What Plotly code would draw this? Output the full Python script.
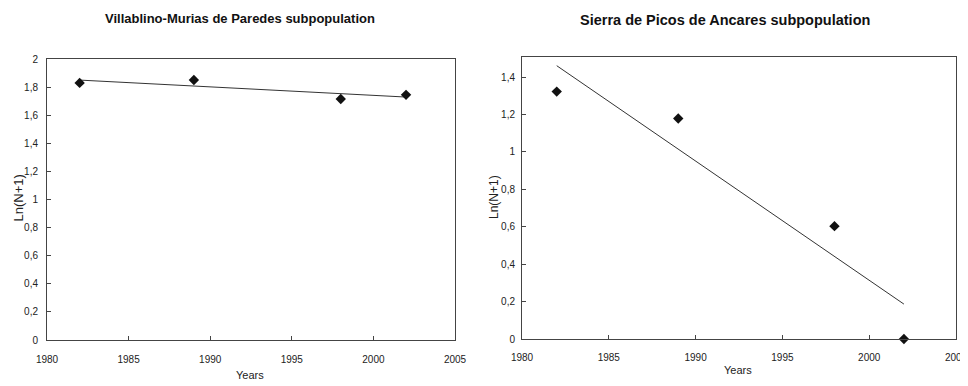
import numpy as np
import plotly.graph_objects as go

# the page has a default 8px body margin, so the figure is 8px smaller on each side
OFF = 8
W, H = 968 - OFF, 386 - OFF

years_a = [1982, 1989, 1998, 2002]
ln_a = [1.83, 1.85, 1.715, 1.745]
years_b = [1982, 1989, 1998, 2002]
ln_b = [1.322, 1.178, 0.603, 0.0]

title_a = "Villablino-Murias de Paredes subpopulation"
title_b = "Sierra de Picos de Ancares subpopulation"
x_ticks = [1980, 1985, 1990, 1995, 2000, 2005]
y_ticks_a = [0, 0.2, 0.4, 0.6, 0.8, 1.0, 1.2, 1.4, 1.6, 1.8, 2.0]
y_ticks_b = [0, 0.2, 0.4, 0.6, 0.8, 1.0, 1.2, 1.4]


def trend(xs, ys):
    k, b = np.polyfit(xs, ys, 1)
    xe = [min(xs), max(xs)]
    return xe, [k * v + b for v in xe]


fig = go.Figure()
for xs, ys, ax in [(years_a, ln_a, ""), (years_b, ln_b, "2")]:
    tx, ty = trend(xs, ys)
    fig.add_trace(go.Scatter(x=tx, y=ty, mode="lines", line=dict(color="#333333", width=1),
                             xaxis="x" + ax, yaxis="y" + ax, showlegend=False, hoverinfo="skip"))
    fig.add_trace(go.Scatter(x=xs, y=ys, mode="markers", cliponaxis=False,
                             marker=dict(symbol="diamond", size=8, color="#111111"),
                             xaxis="x" + ax, yaxis="y" + ax, showlegend=False))


def px(v):
    return (v - OFF) / W


def py(v):
    return 1 - (v - OFF) / H


axis_common = dict(showgrid=False, zeroline=False, showline=True, linecolor="#444444", linewidth=1,
                   mirror=True, automargin=False, ticks="inside",
                   tickfont=dict(family="Liberation Sans, Arial", size=10, color="#222222"),
                   tickcolor="#444444", ticklen=4, tickwidth=1)

fig.update_layout(
    template="none",
    width=W, height=H, margin=dict(l=0, r=0, t=0, b=0),
    paper_bgcolor="white", plot_bgcolor="white", separators=",.",
    xaxis=dict(domain=[px(47), px(455)], range=[1980, 2005], tickvals=x_ticks,
               anchor="y", ticklabelstandoff=10, **axis_common),
    yaxis=dict(domain=[py(340), py(59)], range=[0, 2], tickvals=y_ticks_a,
               anchor="x", ticklabelstandoff=6, **axis_common),
    xaxis2=dict(domain=[px(522), px(956)], range=[1980, 2005], tickvals=x_ticks,
                anchor="y2", ticklabelstandoff=9, **axis_common),
    yaxis2=dict(domain=[py(339), py(57)], range=[0, 1.507], tickvals=y_ticks_b,
                anchor="x2", ticklabelstandoff=4, **axis_common),
)

ann = [
    dict(text="<b>" + title_a + "</b>", x=px(240), y=py(18), font=dict(family="Liberation Sans Narrow, Arial Narrow, Liberation Sans", size=13, color="#111111")),
    dict(text="<b>" + title_b + "</b>", x=px(725), y=py(20), font=dict(family="Liberation Sans, Arial", size=14.5, color="#111111")),
    dict(text="Years", x=px(250), y=py(375), font=dict(family="Liberation Sans, Arial", size=11, color="#222222")),
    dict(text="Years", x=px(738), y=py(370), font=dict(family="Liberation Sans, Arial", size=11, color="#222222")),
    dict(text="Ln(N+1)", x=px(17.5), y=py(198), textangle=-90, font=dict(family="Liberation Sans, Arial", size=13, color="#222222")),
    dict(text="Ln(N+1)", x=px(494), y=py(197), textangle=-90, font=dict(family="Liberation Sans, Arial", size=12, color="#222222")),
]
for a in ann:
    fig.add_annotation(xref="paper", yref="paper", showarrow=False, xanchor="center", yanchor="middle", **a)

fig.write_html("out.html")
